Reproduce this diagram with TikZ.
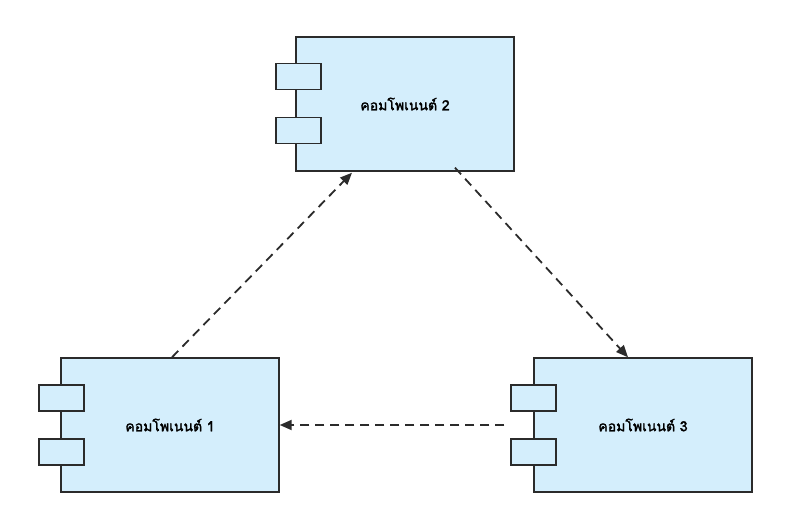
\documentclass[tikz,border=0pt]{standalone}
\usepackage{fontspec}
\newfontfamily\thaifont[Script=Thai,FakeBold=2]{Loma}
\usetikzlibrary{arrows.meta}
\definecolor{cfill}{HTML}{D4EEFC}
\definecolor{cline}{HTML}{2B2B2B}
\begin{document}
\begin{tikzpicture}[x=1pt,y=-1pt,
  body/.style={draw=cline,fill=cfill,line width=1.4pt,minimum width=218pt,minimum height=134pt,inner sep=0pt,font=\thaifont\fontsize{14}{16}\selectfont},
  tab/.style={draw=cline,fill=cfill,line width=1.4pt,minimum width=45pt,minimum height=26pt,inner sep=0pt},
  dep/.style={draw=cline,line width=1.8pt,dash pattern=on 9pt off 6pt,-{Triangle[length=12pt,width=10pt]}}]
\useasboundingbox (0,0) rectangle (788,529);
\node[body] (c2) at (405,104) {คอมโพเนนต์ 2};
\node[tab] (c2a) at (298.5,76.5) {};
\node[tab] (c2b) at (298.5,130.5) {};
\node[body] (c1) at (170,425) {คอมโพเนนต์ 1};
\node[tab] (c1a) at (61.5,398) {};
\node[tab] (c1b) at (61.5,452) {};
\node[body] (c3) at (643,425) {คอมโพเนนต์ 3};
\node[tab] (c3a) at (533.5,398) {};
\node[tab] (c3b) at (533.5,452) {};
\draw[dep] ([xshift=2pt]c1.north) -- ([xshift=-53pt,yshift=-1pt]c2.south);
\draw[dep] ([xshift=50pt,yshift=4pt]c2.south) -- ([xshift=-15pt]c3.north);
\draw[dep] ([xshift=-29pt]c3.west) -- (c1.east);
\end{tikzpicture}
\end{document}
